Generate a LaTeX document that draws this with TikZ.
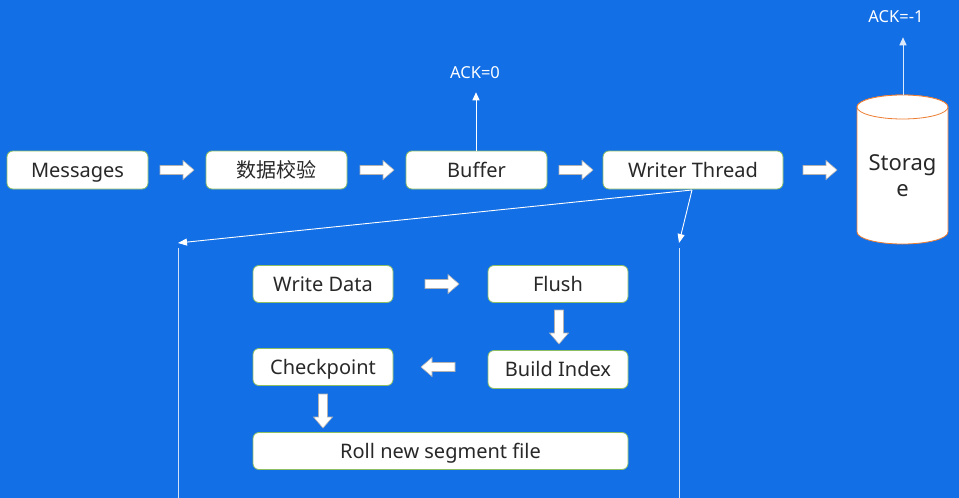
\documentclass[tikz,border=0pt]{standalone}
\usepackage{fontspec}
\setmainfont{Noto Sans}
\newfontfamily\cjk{Noto Sans CJK SC}
\usetikzlibrary{arrows.meta}
\definecolor{bg}{RGB}{19,111,230}
\definecolor{boxline}{RGB}{140,190,100}
\definecolor{cylline}{RGB}{237,125,49}
\definecolor{txt}{RGB}{40,40,40}
\tikzset{
  box/.style={draw=boxline,line width=0.8pt,fill=white,rounded corners=6pt,
    minimum height=38pt,text=txt,font=\fontsize{20}{23}\selectfont,inner sep=0pt,
    text height=16pt,text depth=2pt},
  acklabel/.style={text=white,font=\fontsize{16.5}{19}\selectfont,inner sep=0pt},
  ackarrow/.style={draw=white,line width=1pt,-{Triangle[length=8pt,width=7pt]}},
  splitarrow/.style={draw=white,line width=0.9pt,-{Triangle[length=9pt,width=7pt]}},
  lifeline/.style={draw=white!80!bg,line width=0.8pt},
  cylbody/.style={draw=cylline,line width=0.8pt,fill=white},
  barrow/.pic={\draw[fill=white,draw=gray!60,line width=0.6pt]
    (0,-4.5) -- (23,-4.5) -- (23,-9.5) -- (34,0) -- (23,9.5) -- (23,4.5) -- (0,4.5) -- cycle;}
}
\begin{document}
\begin{tikzpicture}[x=1pt,y=-1pt]
\path[use as bounding box,fill=bg] (0,0) rectangle (959,498);
% top row
\node[box,minimum width=141pt] (msg) at (77.5,170) {Messages};
\node[box,minimum width=141pt] (chk) at (276.5,170) {\cjk 数据校验};
\node[box,minimum width=141pt] (buf) at (476.5,170) {Buffer};
\node[box,minimum width=180pt] (wt) at (693,170) {Writer Thread};
% storage cylinder
\path[cylbody] (857,107) -- (857,232) arc[start angle=180,end angle=360,x radius=45.5,y radius=-12]
  -- (948,107) arc[start angle=0,end angle=180,x radius=45.5,y radius=-12] -- cycle;
\draw[cylbody] (902.5,107) ellipse[x radius=45.5,y radius=12];
\node[inner sep=0pt,text=txt,align=center,font=\fontsize{22}{26}\selectfont] (sto) at (902.5,176) {Storag\\e};
\coordinate (stotop) at (903,95);
\pic at (160,170) {barrow};
\pic at (360,170) {barrow};
\pic at (559,170) {barrow};
\pic at (803,170) {barrow};
% acks
\node[acklabel] (ack0) at (475,73) {ACK=0};
\node[acklabel] (ack1) at (896,17) {ACK=-1};
\coordinate (buftop) at (476,151);
\draw[ackarrow,shorten >=13pt] (buftop) -- (buftop |- ack0.south);
\draw[ackarrow,draw=white!85!bg,shorten >=14pt] (stotop) -- (stotop |- ack1.south);
% split lines
\coordinate (wtsplit) at (692,190);
\coordinate (la) at (178,243);
\coordinate (ra) at (679,243);
\coordinate (lb) at (178,248);
\coordinate (rb) at (679,248);
\coordinate (lend) at (178,498);
\coordinate (rend) at (679,498);
\draw[splitarrow] (wtsplit) -- (la);
\draw[splitarrow] (wtsplit) -- (ra);
\draw[lifeline] (lb) -- (lend);
\draw[lifeline] (rb) -- (rend);
% inner steps
\node[box,minimum width=140pt,minimum height=37pt] (wd) at (323,284) {Write Data};
\node[box,minimum width=140pt,minimum height=37pt] (fl) at (558,284) {Flush};
\node[box,minimum width=140pt,minimum height=38pt] (bi) at (558,369.5) {Build Index};
\node[box,minimum width=140pt,minimum height=37pt] (cp) at (323,367) {Checkpoint};
\node[box,minimum width=375pt,minimum height=37pt] (roll) at (440.5,451) {Roll new segment file};
\pic at (425,284) {barrow};
\pic[rotate=-90] at (559,310) {barrow};
\pic[rotate=180] at (455,367) {barrow};
\pic[rotate=-90] at (323,394) {barrow};
\end{tikzpicture}
\end{document}
